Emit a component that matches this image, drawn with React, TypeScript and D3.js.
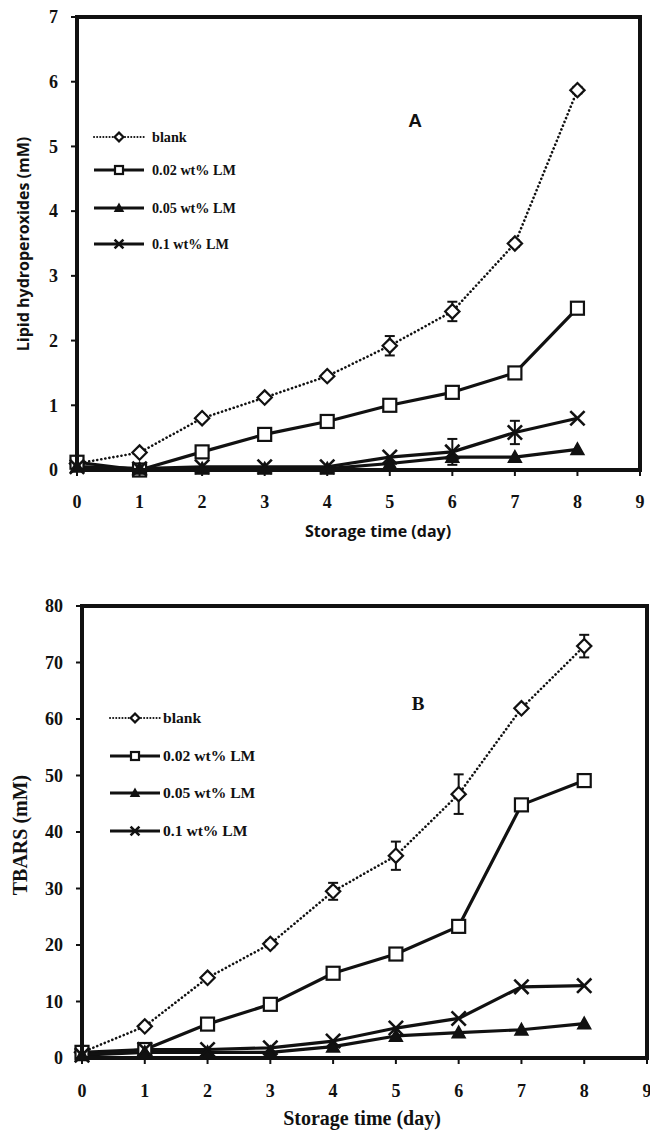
import React from "react";
import * as d3 from "d3";

const days = [0, 1, 2, 3, 4, 5, 6, 7, 8];
const seriesNames = ["blank", "0.02 wt% LM", "0.05 wt% LM", "0.1 wt% LM"];
const markerTypes = ["diamond", "square", "triangle", "x"];

// Panel A: lipid hydroperoxides (mM)
const aBlank = [0.1, 0.27, 0.8, 1.12, 1.45, 1.92, 2.45, 3.5, 5.87];
const aLM002 = [0.12, 0.0, 0.28, 0.55, 0.75, 1.0, 1.2, 1.5, 2.5];
const aLM005 = [0.05, 0.02, 0.02, 0.02, 0.02, 0.1, 0.2, 0.2, 0.32];
const aLM01 = [0.05, 0.02, 0.05, 0.05, 0.05, 0.2, 0.28, 0.58, 0.8];
const aErrBlank = [0, 0, 0.04, 0.04, 0.04, 0.15, 0.15, 0.05, 0.05];
const aErr002 = [0, 0, 0, 0, 0, 0, 0, 0, 0];
const aErr005 = [0, 0, 0, 0, 0, 0, 0, 0, 0];
const aErr01 = [0, 0, 0, 0, 0, 0, 0.2, 0.18, 0];
const aYTicks = [0, 1, 2, 3, 4, 5, 6, 7];

// Panel B: TBARS (mM)
const bBlank = [1, 5.6, 14.2, 20.2, 29.5, 35.8, 46.7, 61.9, 72.9];
const bLM002 = [1, 1.5, 6, 9.5, 15, 18.4, 23.3, 44.8, 49.1];
const bLM005 = [0.5, 1, 1, 1, 2, 3.9, 4.5, 5, 6.1];
const bLM01 = [0.5, 1.5, 1.5, 1.8, 3, 5.3, 7, 12.6, 12.8];
const bErrBlank = [0, 0, 0, 0.6, 1.5, 2.5, 3.5, 0, 2];
const bErr002 = [0, 0, 0, 0, 0, 0, 0, 0, 0];
const bErr005 = [0, 0, 0, 0, 0, 0, 0, 0, 0];
const bErr01 = [0, 0, 0, 0, 0, 0, 0, 0, 0];
const bYTicks = [0, 10, 20, 30, 40, 50, 60, 70, 80];
const xTicks = [0, 1, 2, 3, 4, 5, 6, 7, 8, 9];

function Marker({ type, x, y, s }: { type: string; x: number; y: number; s: number }) {
  const sw = 2.2;
  if (type === "diamond") {
    const h = s * 0.55;
    return <path d={`M${x},${y - h}L${x + h},${y}L${x},${y + h}L${x - h},${y}Z`} fill="#fff" stroke="#111" strokeWidth={sw} />;
  }
  if (type === "square") {
    const h = s * 0.5;
    return <rect x={x - h} y={y - h} width={2 * h} height={2 * h} fill="#fff" stroke="#111" strokeWidth={sw} />;
  }
  if (type === "triangle") {
    const h = s * 0.5;
    return <path d={`M${x},${y - h}L${x + h},${y + h * 0.8}L${x - h},${y + h * 0.8}Z`} fill="#111" stroke="#111" strokeWidth={1.5} />;
  }
  const h = s * 0.55;
  return (
    <g stroke="#111" strokeWidth={2.6}>
      <line x1={x - h} y1={y - h} x2={x + h} y2={y + h} />
      <line x1={x - h} y1={y + h} x2={x + h} y2={y - h} />
    </g>
  );
}

type PanelProps = {
  left: number; right: number; top: number; bottom: number; yMax: number;
  yTicks: number[]; series: number[][]; errs: number[][];
  yTitle: string; xTitle: string; letter: string; letterX: number; letterY: number; letterFont: string;
  legendX: number; legendYs: number[]; legendGap: number; legendSize: number;
  tickFont: string; titleFont: string;
  xTitleX: number; xTitleY: number; yTitleX: number; yTitleY: number;
  titleSize: number; tickSize: number; legendFont: string; xTickDy: number;
};

function Panel(p: PanelProps) {
  const x = d3.scaleLinear().domain([0, 9]).range([p.left, p.right]);
  const y = d3.scaleLinear().domain([0, p.yMax]).range([p.bottom, p.top]);
  const line = d3.line<number>().x((_, i) => x(days[i])).y((v) => y(v));
  const ms = 13;
  return (
    <g>
      {p.series.map((s, si) => (
        <path key={"l" + si} d={line(s) || ""} fill="none" stroke="#111"
          strokeWidth={si === 0 ? 2.6 : 3.2}
          strokeDasharray={si === 0 ? "0.1 4" : undefined}
          strokeLinecap={si === 0 ? "round" : "butt"} strokeLinejoin="round" />
      ))}
      {p.errs.map((e, si) => e.map((ev, i) => ev > 0 ? (
        <g key={"e" + si + "-" + i} stroke="#111" strokeWidth={2}>
          <line x1={x(days[i])} x2={x(days[i])} y1={y(p.series[si][i] - ev)} y2={y(p.series[si][i] + ev)} />
          <line x1={x(days[i]) - 5} x2={x(days[i]) + 5} y1={y(p.series[si][i] - ev)} y2={y(p.series[si][i] - ev)} />
          <line x1={x(days[i]) - 5} x2={x(days[i]) + 5} y1={y(p.series[si][i] + ev)} y2={y(p.series[si][i] + ev)} />
        </g>
      ) : null))}
      {p.series.map((s, si) => s.map((v, i) => (
        <Marker key={"m" + si + "-" + i} type={markerTypes[si]} x={x(days[i])} y={y(v)} s={ms} />
      )))}
      <rect x={p.left} y={p.top} width={p.right - p.left} height={p.bottom - p.top} fill="none" stroke="#111" strokeWidth={4} />
      {p.yTicks.map((t) => (
        <g key={"yt" + t}>
          <line x1={p.left - 6} x2={p.left} y1={y(t)} y2={y(t)} stroke="#111" strokeWidth={2} />
          <text x={p.left - 19} y={y(t)} dy="0.35em" textAnchor="end" fontFamily={p.tickFont} fontWeight="bold" fontSize={p.tickSize} fill="#111">{t}</text>
        </g>
      ))}
      {xTicks.map((t) => (
        <g key={"xt" + t}>
          <line x1={x(t)} x2={x(t)} y1={p.bottom} y2={p.bottom + 6} stroke="#111" strokeWidth={2} />
          <text x={x(t)} y={p.bottom + p.xTickDy} textAnchor="middle" fontFamily={p.tickFont} fontWeight="bold" fontSize={p.tickSize} fill="#111">{t}</text>
        </g>
      ))}
      <text x={p.xTitleX} y={p.xTitleY} textAnchor="middle" fontFamily={p.titleFont} fontWeight="bold" fontSize={p.titleSize} fill="#111">{p.xTitle}</text>
      <text transform={`translate(${p.yTitleX},${p.yTitleY}) rotate(-90)`} textAnchor="middle" dy="0.35em" fontFamily={p.titleFont} fontWeight="bold" fontSize={p.titleSize} fill="#111">{p.yTitle}</text>
      <text x={p.letterX} y={p.letterY} textAnchor="middle" dy="0.35em" fontFamily={p.letterFont} fontWeight="bold" fontSize={19} fill="#111">{p.letter}</text>
      {seriesNames.map((n, si) => {
        const ly = p.legendYs[si];
        const x0 = p.legendX, x1 = p.legendX + 50;
        return (
          <g key={"lg" + si}>
            <line x1={x0} x2={x1} y1={ly} y2={ly} stroke="#111" strokeWidth={si === 0 ? 2 : 3}
              strokeDasharray={si === 0 ? "0.1 3" : undefined} strokeLinecap={si === 0 ? "round" : "butt"} />
            <Marker type={markerTypes[si]} x={(x0 + x1) / 2} y={ly} s={8} />
            <text x={x1 + p.legendGap} y={ly} dy="0.35em" fontFamily={p.legendFont} fontWeight="bold" fontSize={p.legendSize} fill="#111">{n}</text>
          </g>
        );
      })}
    </g>
  );
}

export default function App() {
  return (
    <svg width={650} height={1131} style={{ position: "absolute", left: 0, top: 0, background: "#fff" }}>
      <rect width={650} height={1131} fill="#fff" />
      <Panel left={77} right={640} top={17} bottom={470} yMax={7} yTicks={aYTicks}
        series={[aBlank, aLM002, aLM005, aLM01]} errs={[aErrBlank, aErr002, aErr005, aErr01]}
        yTitle="Lipid hydroperoxides (mM)" xTitle="Storage time (day)" letter="A" letterX={415} letterY={120}
        letterFont="Liberation Sans, Arial, sans-serif"
        legendX={94} legendYs={[137, 170, 208, 244]} legendGap={8} legendSize={14.2}
        tickFont="Liberation Serif, serif" titleFont="Open Sans, sans-serif"
        xTitleX={378} xTitleY={537} yTitleX={23} yTitleY={244} titleSize={16} tickSize={18}
        legendFont="Liberation Serif, serif" xTickDy={38} />
      <Panel left={82} right={647} top={606} bottom={1058} yMax={80} yTicks={bYTicks}
        series={[bBlank, bLM002, bLM005, bLM01]} errs={[bErrBlank, bErr002, bErr005, bErr01]}
        yTitle="TBARS (mM)" xTitle="Storage time (day)" letter="B" letterX={418} letterY={703}
        letterFont="Liberation Serif, serif"
        legendX={110} legendYs={[718, 756, 793, 831]} legendGap={3} legendSize={15.6}
        tickFont="Liberation Serif, serif" titleFont="Liberation Serif, serif"
        xTitleX={362} xTitleY={1125} yTitleX={20} yTitleY={835} titleSize={20} tickSize={18}
        legendFont="Liberation Serif, serif" xTickDy={39} />
    </svg>
  );
}
